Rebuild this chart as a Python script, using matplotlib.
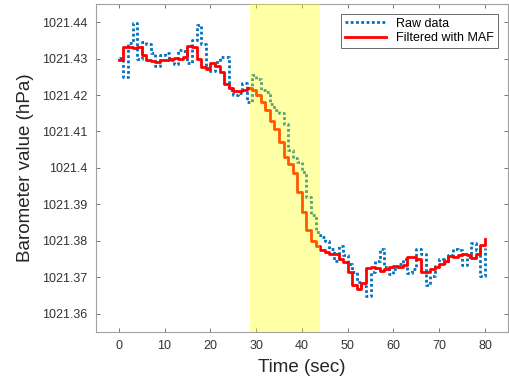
import numpy as np
import matplotlib
matplotlib.use("Agg")
import matplotlib.pyplot as plt

# --------------------------------------------------------------------- #
# Data (1 s samples)
# --------------------------------------------------------------------- #
time_sec = np.arange(0, 81)

raw_hpa = [
    1021.4301, 1021.4249, 1021.4342, 1021.4397, 1021.4300, 1021.4345, 1021.4340, 1021.4315,
    1021.4280, 1021.4310, 1021.4315, 1021.4296, 1021.4285, 1021.4323, 1021.4320, 1021.4288,
    1021.4350, 1021.4392, 1021.4340, 1021.4275, 1021.4265, 1021.4290, 1021.4304, 1021.4304,
    1021.4214, 1021.4200, 1021.4206, 1021.4233, 1021.4181, 1021.4255, 1021.4245, 1021.4215,
    1021.4208, 1021.4175, 1021.4159, 1021.4150, 1021.4120, 1021.4050, 1021.4028, 1021.4017,
    1021.3990, 1021.3920, 1021.3870, 1021.3825, 1021.3810, 1021.3800, 1021.3777, 1021.3745,
    1021.3785, 1021.3760, 1021.3736, 1021.3714, 1021.3687, 1021.3675, 1021.3650, 1021.3714,
    1021.3745, 1021.3777, 1021.3728, 1021.3708, 1021.3722, 1021.3736, 1021.3749, 1021.3712,
    1021.3722, 1021.3777, 1021.3765, 1021.3680, 1021.3703, 1021.3730, 1021.3749, 1021.3740,
    1021.3760, 1021.3777, 1021.3775, 1021.3735, 1021.3755, 1021.3795, 1021.3775, 1021.3703,
    1021.3780,
]

filtered_hpa = [
    1021.4296, 1021.4332, 1021.4332, 1021.4330, 1021.4332, 1021.4310, 1021.4296, 1021.4292,
    1021.4290, 1021.4296, 1021.4296, 1021.4300, 1021.4302, 1021.4300, 1021.4305, 1021.4335,
    1021.4332, 1021.4300, 1021.4278, 1021.4270, 1021.4287, 1021.4280, 1021.4262, 1021.4230,
    1021.4219, 1021.4212, 1021.4212, 1021.4214, 1021.4219, 1021.4215, 1021.4200, 1021.4180,
    1021.4160, 1021.4130, 1021.4108, 1021.4070, 1021.4030, 1021.4010, 1021.3985, 1021.3935,
    1021.3880, 1021.3830, 1021.3800, 1021.3785, 1021.3775, 1021.3769, 1021.3765, 1021.3763,
    1021.3749, 1021.3741, 1021.3715, 1021.3680, 1021.3667, 1021.3685, 1021.3725, 1021.3728,
    1021.3725, 1021.3717, 1021.3722, 1021.3728, 1021.3730, 1021.3728, 1021.3735, 1021.3755,
    1021.3755, 1021.3750, 1021.3714, 1021.3714, 1021.3722, 1021.3728, 1021.3736, 1021.3745,
    1021.3758, 1021.3757, 1021.3760, 1021.3763, 1021.3760, 1021.3752, 1021.3765, 1021.3790,
    1021.3804,
]

highlight_start, highlight_end = 28.7, 44.0

x_ticks = [0, 10, 20, 30, 40, 50, 60, 70, 80]
y_ticks = [1021.36, 1021.37, 1021.38, 1021.39, 1021.40, 1021.41, 1021.42, 1021.43, 1021.44]
y_tick_labels = ["1021.36", "1021.37", "1021.38", "1021.39", "1021.4",
                 "1021.41", "1021.42", "1021.43", "1021.44"]

# --------------------------------------------------------------------- #
# Plot
# --------------------------------------------------------------------- #
plt.rcParams["font.family"] = ["Liberation Sans", "DejaVu Sans"]

fig = plt.figure(figsize=(5.1, 3.83), dpi=100)
ax = fig.add_axes([0.188, 0.133, 0.808, 0.857])

ax.plot(time_sec, raw_hpa, color="#0072BD", linestyle=(0, (1, 0.9)), linewidth=2.0,
        drawstyle="steps-post", label="Raw data")
ax.plot(time_sec, filtered_hpa, color="#FF0000", linewidth=2.0,
        drawstyle="steps-post", label="Filtered with MAF")

# translucent band over the lines, so they tint green / orange inside it
ax.axvspan(highlight_start, highlight_end, color="#FFFF00", alpha=0.35,
           linewidth=0, zorder=5)

ax.set_xlim(-5, 85)
ax.set_ylim(1021.355, 1021.445)
ax.set_xticks(x_ticks)
ax.set_yticks(y_ticks)
ax.set_yticklabels(y_tick_labels)

gray = "#333333"
for spine in ax.spines.values():
    spine.set_color("#A0A0A0")
    spine.set_linewidth(0.8)
ax.tick_params(direction="in", length=3, width=0.6, color="#606060",
               labelcolor=gray, labelsize=9, top=True, right=True, pad=6)

ax.set_xlabel("Time (sec)", fontsize=13.5, color="#262626", labelpad=5)
ax.set_ylabel("Barometer value (hPa)", fontsize=13.5, color="#262626", labelpad=6)

leg = ax.legend(loc="upper right", fontsize=9, frameon=True, fancybox=False,
                edgecolor="#262626", handlelength=3.3, borderpad=0.3,
                labelspacing=0.2, borderaxespad=0.8)
leg.get_frame().set_linewidth(0.6)
leg.set_zorder(10)

fig.savefig("out.png", dpi=100)
